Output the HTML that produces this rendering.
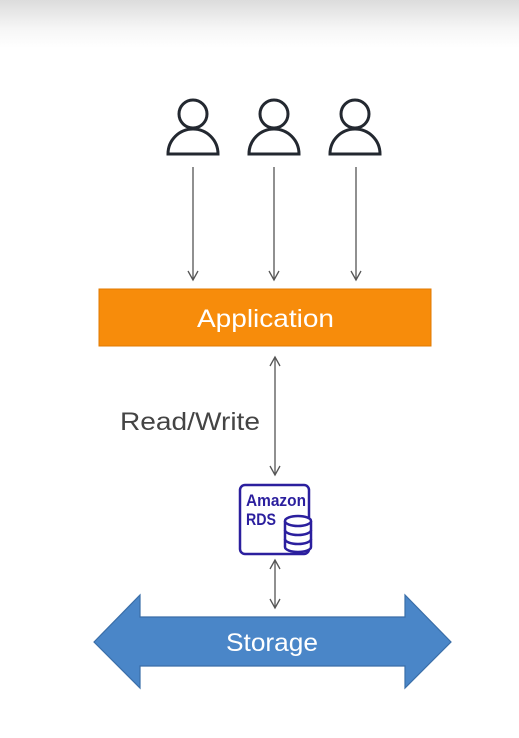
<!DOCTYPE html>
<html><head><style>
html,body{margin:0;padding:0;background:#fff;width:519px;height:738px;overflow:hidden}
.top{position:absolute;left:0;top:0;width:519px;height:48px;background:linear-gradient(#dcdcdc,#f6f6f6 60%,#fff)}
</style></head><body>
<div class="top"></div>
<svg width="519" height="738" style="position:absolute;left:0;top:0" font-family="Liberation Sans, sans-serif">
<defs>
<marker id="a" markerWidth="12" markerHeight="12" refX="10" refY="6" orient="auto-start-reverse" markerUnits="userSpaceOnUse">
<path d="M1,1 L10,6 L1,11" fill="none" stroke="#555" stroke-width="1.3"/></marker>
</defs>
<g fill="none" stroke="#232830" stroke-width="3">
<circle cx="193" cy="114" r="14"/><path d="M168,154 A25,25 0 0 1 218,154 Z"/>
<circle cx="274" cy="114" r="14"/><path d="M249,154 A25,25 0 0 1 299,154 Z"/>
<circle cx="355" cy="114" r="14"/><path d="M330,154 A25,25 0 0 1 380,154 Z"/>
</g>
<g stroke="#555" stroke-width="1.3">
<line x1="193" y1="167" x2="193" y2="280" marker-end="url(#a)"/>
<line x1="274" y1="167" x2="274" y2="280" marker-end="url(#a)"/>
<line x1="356" y1="167" x2="356" y2="280" marker-end="url(#a)"/>
<line x1="275" y1="357" x2="275" y2="475" marker-start="url(#a)" marker-end="url(#a)"/>
<line x1="275" y1="560" x2="275" y2="608" marker-start="url(#a)" marker-end="url(#a)"/>
</g>
<rect x="99" y="289" width="332" height="57" fill="#F78C0B" stroke="#e07a00" stroke-width="1"/>
<text x="197" y="327" fill="#fff" font-size="25" textLength="137" lengthAdjust="spacingAndGlyphs">Application</text>
<text x="120" y="430" fill="#444" font-size="25" textLength="140" lengthAdjust="spacingAndGlyphs">Read/Write</text>
<rect x="240" y="485" width="69" height="69" rx="5" fill="#fff" stroke="#2b1f9e" stroke-width="2.5"/>
<text x="246" y="506" fill="#2b1f9e" font-size="17" font-weight="bold" textLength="60" lengthAdjust="spacingAndGlyphs">Amazon</text>
<text x="246" y="525" fill="#2b1f9e" font-size="17" font-weight="bold" textLength="30" lengthAdjust="spacingAndGlyphs">RDS</text>
<g fill="#fff" stroke="#2b1f9e" stroke-width="2.5">
<path d="M285,521 v26 a13,5 0 0 0 26,0 v-26"/>
<ellipse cx="298" cy="521" rx="13" ry="5"/>
<path d="M285,530 a13,5 0 0 0 26,0 M285,539 a13,5 0 0 0 26,0" fill="none"/>
</g>
<path d="M94,642 L140,595 L140,617 L405,617 L405,595 L451,642 L405,688 L405,666 L140,666 L140,688 Z" fill="#4A86C8" stroke="#3a6ea8" stroke-width="1.2"/>
<text x="226" y="651" fill="#fff" font-size="25" textLength="92" lengthAdjust="spacingAndGlyphs">Storage</text>
</svg>
</body></html>
